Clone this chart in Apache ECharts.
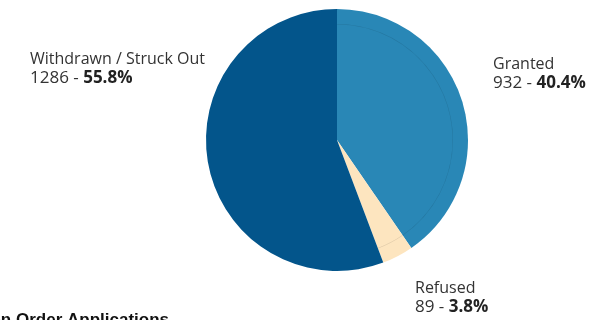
<!DOCTYPE html>
<html>
<head>
<meta charset="utf-8">
<script src="https://cdn.jsdelivr.net/npm/echarts@6/dist/echarts.min.js"></script>
<style>
html,body{margin:0;padding:0;background:#fff;}
#c{width:611px;height:320px;}
</style>
</head>
<body>
<div id="c"></div>
<script>
const categories = ['Granted', 'Refused', 'Withdrawn / Struck Out'];
const values = [932, 89, 1286];
const percents = ['40.4%', '3.8%', '55.8%'];
const colors = ['#2987b6', '#fde5bf', '#03558b'];
const titleText = 'Suppression Order Applications';

const chart = echarts.init(document.getElementById('c'), null, {renderer: 'canvas'});
const labelPos = [
  {x: 493, y: 55},
  {x: 415, y: 279},
  {x: 30, y: 50}
];
const ringColors = ['rgba(0,0,0,0.12)', 'rgba(0,0,0,0.12)', 'rgba(0,0,0,0)'];
chart.setOption({
  animation: false,
  title: {
    text: titleText,
    left: 164,
    top: 307,
    textAlign: 'right',
    textStyle: {fontFamily: 'Liberation Sans', fontSize: 17, fontWeight: 'bold', color: '#111'}
  },
  series: [
    {
      type: 'pie',
      center: [337, 140],
      radius: [0, 131],
      startAngle: 90,
      clockwise: true,
      data: categories.map((c, i) => ({name: c, value: values[i], itemStyle: {color: colors[i]}})),
      label: {
        show: true,
        position: 'outside',
        overflow: 'none',
        formatter: p => '{n|' + p.name + '}\n{v|' + p.value + ' - }{b|' + percents[p.dataIndex] + '}',
        rich: {
          n: {fontFamily: 'Open Sans', fontSize: 16, color: '#333', lineHeight: 19},
          v: {fontFamily: 'Open Sans', fontSize: 17, color: '#333', lineHeight: 19},
          b: {fontFamily: 'Open Sans', fontSize: 17, fontWeight: 'bold', color: '#222', lineHeight: 19}
        }
      },
      labelLine: {show: false},
      labelLayout: p => ({x: labelPos[p.dataIndex].x, y: labelPos[p.dataIndex].y, align: 'left', verticalAlign: 'top'}),
      emphasis: {disabled: true}
    },
    {
      type: 'pie',
      center: [337, 140],
      radius: [115.5, 116],
      startAngle: 90,
      clockwise: true,
      silent: true,
      label: {show: false},
      labelLine: {show: false},
      data: categories.map((c, i) => ({name: c, value: values[i], itemStyle: {color: ringColors[i]}}))
    }
  ]
});
</script>
</body>
</html>
